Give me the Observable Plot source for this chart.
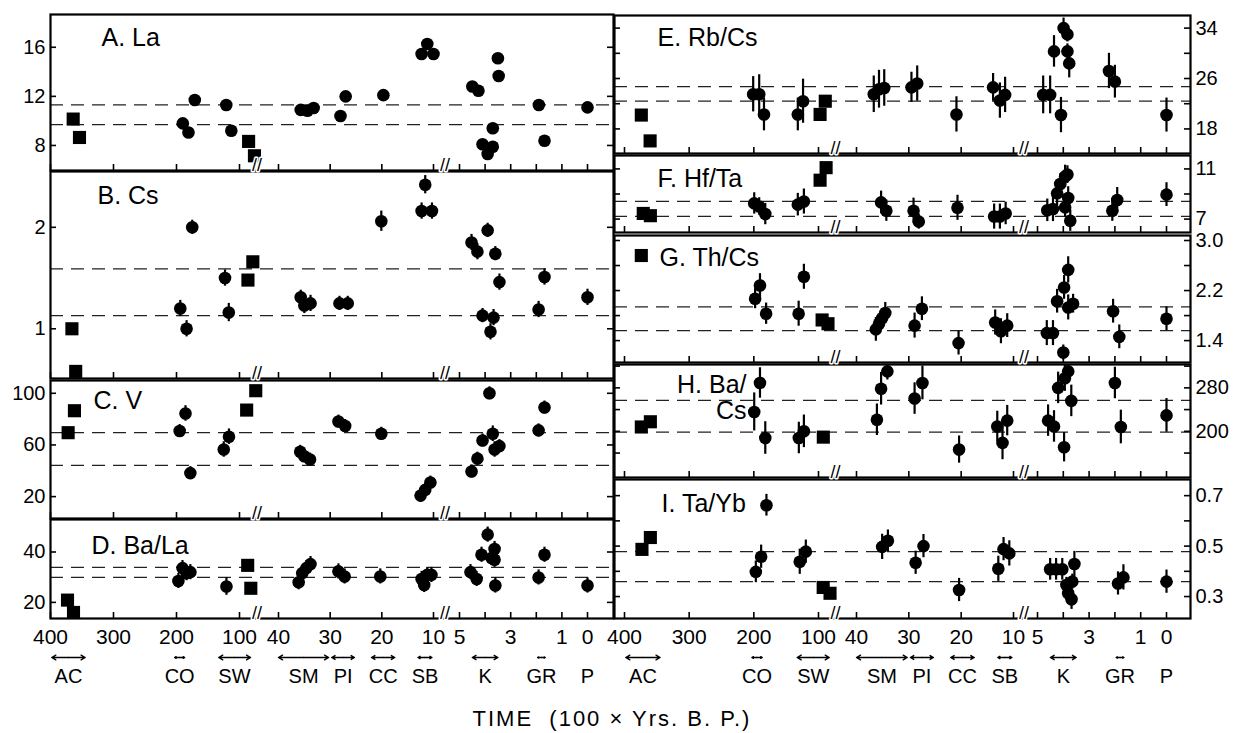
<!DOCTYPE html>
<html>
<head>
<meta charset="utf-8">
<script src="https://cdn.jsdelivr.net/npm/d3@7"></script>
<script src="https://cdn.jsdelivr.net/npm/@observablehq/plot@0.6"></script>
<style>
  body { margin: 0; background: #fff; }
  #chart { position: relative; width: 1238px; height: 733px; background: #fff; font-family: "Liberation Sans", Arial, sans-serif; overflow: hidden; }
  #chart svg { position: absolute; overflow: visible; }
  #xtitle { position: absolute; left: 0; width: 1224px; top: 706px; text-align: center; font-size: 22px; letter-spacing: 2px; color: #000; }
</style>
</head>
<body>
<div id="chart"><div id="xtitle">TIME&nbsp; (100 × Yrs. B. P.)</div></div>
<script>
// ---------- x axis (time, 100 x yrs B.P.) ----------
const xDomain = [400, 100, 40, 10, 5, 0];           // broken-axis segments
const xTicks = [400, 300, 200, 100, 40, 30, 20, 10, 5, 4, 3, 2, 1, 0];
const xLabels = [400, 300, 200, 100, 40, 30, 20, 10, 5, 3, 1, 0];
const xBreaks = [73, 7.8];

// ---------- site bars ----------
const siteNames = ["AC", "CO", "SW", "SM", "PI", "CC", "SB", "K", "GR", "P"];
const siteFrom  = [398, 203, 133, 40, 29.7, 22, 13, 4.5, 1.95, 0];
const siteTo    = [345, 187, 83, 30.3, 25.3, 17.5, 10.3, 3.5, 1.65, 0];

// ---------- data: [shape, time, value, error] (s = square, c = circle) ----------
const dataA = [["s",364,10.15],["s",354,8.65],["c",190,9.8],["c",181,9.06],["c",171,11.7],["c",121,11.3],["c",113,9.2],
  ["s",86,8.33],["s",77,7.16],["c",35.7,10.9],["c",34.4,10.83],["c",33.2,11.05],["c",28.0,10.4],["c",27.0,12.0],["c",19.7,12.1],
  ["c",12.3,15.45],["c",11.2,16.27],["c",10.0,15.45],["c",4.5,12.8],["c",4.26,12.46],["c",4.1,8.1],["c",3.9,7.3],["c",3.7,7.9],
  ["c",3.7,9.4],["c",3.5,15.1],["c",3.47,13.66],["c",1.9,11.3],["c",1.68,8.38],["c",0,11.1]];
const dashA = [11.3, 9.7];

const dataB = [["s",366,1.0,0],["s",360,0.58,0],["c",194,1.2,0.08],["c",184,1.0,0.08],["c",175,2.0,0.07],["c",123,1.5,0.08],["c",117,1.16,0.09],
  ["s",87,1.48,0],["s",79.5,1.66,0],["c",35.7,1.31,0.07],["c",35,1.23,0.08],["c",33.8,1.25,0.08],["c",28.2,1.25,0.07],["c",26.6,1.25,0.07],
  ["c",20.1,2.06,0.1],["c",11.6,2.42,0.09],["c",12.3,2.16,0.08],["c",10.3,2.16,0.08],["c",4.53,1.85,0.08],["c",4.3,1.76,0.08],["c",3.9,1.97,0.07],
  ["c",4.1,1.13,0.07],["c",3.67,1.11,0.08],["c",3.79,0.97,0.08],["c",3.6,1.74,0.07],["c",3.44,1.46,0.08],["c",1.91,1.19,0.08],["c",1.68,1.51,0.08],["c",0,1.31,0.08]];
const dashB = [1.59, 1.13];

const dataC = [["s",372,69.5,0],["s",362,86.5,0],["c",195,70.8,5],["c",185.7,84.4,6],["c",178,38.2,5],["c",125,56.5,6],["c",116.7,66.4,6],
  ["s",89,87,0],["s",75,102,0],["c",35.8,54.7,5],["c",35,51.3,5],["c",33.9,48.7,5],["c",28.4,78.1,5],["c",27.1,74.7,5],["c",20.1,68.7,5],
  ["c",12.5,20.8,5],["c",11.6,25.2,5],["c",10.6,30.9,5],["c",4.53,39.5,5],["c",4.3,49.4,5],["c",4.1,63.5,5],["c",3.83,100,5],["c",3.7,68.7,6],
  ["c",3.63,56.5,6],["c",3.44,59.1,5],["c",1.91,71.3,5],["c",1.68,89,5]];
const dashC = [69.5, 44.2];

const dataD = [["s",373,20.9,0],["s",363.5,16,0],["c",197,28.5,3],["c",190.5,33.6,3],["c",184,31.6,3],["c",178,32,3],["c",120.7,26.3,3.5],
  ["s",87.4,34.7,0],["s",82.6,25.6,0],["c",36.1,28,3],["c",35.4,31.6,3],["c",34.6,33.6,3],["c",33.8,35.2,3],["c",28.4,32.3,3],["c",27.2,30.3,3],
  ["c",20.3,30.3,3],["c",12.3,29.3,3],["c",11.8,26.9,3],["c",11.2,30.9,3],["c",10.4,30.9,3],["c",4.57,32,3],["c",4.33,29.3,3],["c",4.14,38.9,3],
  ["c",3.9,46.9,3],["c",3.75,37.6,3],["c",3.63,41.2,3],["c",3.63,36.9,3],["c",3.6,26.7,3],["c",1.91,29.9,3],["c",1.68,38.9,3],["c",0,26.7,3]];
const dashD = [33.9, 29.9];

const dataE = [["s",374,20.2,0],["s",360.4,16.1,0],["c",201,23.5,2.8],["c",191.7,23.5,3.1],["c",184.3,20.3,2.6],["c",132,20.3,2.6],["c",123.9,22.4,3.5],
  ["s",97.5,20.3,0],["s",89.3,22.4,0],["c",36.7,23.5,2.9],["c",35.7,24.3,3],["c",34.7,24.5,2.9],["c",29.5,24.6,2.4],["c",28.4,25.2,2.8],["c",20.9,20.3,2.8],
  ["c",13.9,24.6,2.2],["c",12.6,22.5,2.8],["c",11.6,23.4,2.8],["c",4.78,23.4,3],["c",4.51,23.4,3],["c",4.36,30.3,2.5],["c",4.09,20.2,2.8],["c",3.99,34,1.6],
  ["c",3.84,33,1.2],["c",3.84,30.3,1.2],["c",3.77,28.4,2.3],["c",2.23,27.2,2.8],["c",2.0,25.5,2.6],["c",0,20.2,2.7]];
const dashE = [24.7, 22.4];

const dataF = [["s",371,7.45,0],["s",360,7.27,0],["c",199.4,8.25,0.85],["c",191.7,8.0,0.7],["c",182.3,7.4,0.85],["c",132,8.15,0.9],["c",122.6,8.4,1.0],
  ["s",97.5,10.1,0],["s",88,11.1,0],["c",35.3,8.33,0.9],["c",34.3,7.67,0.85],["c",29.1,7.67,1.0],["c",28.1,6.8,0.6],["c",20.7,7.9,1.0],["c",13.7,7.2,1.0],
  ["c",12.6,7.2,1.0],["c",11.5,7.45,0.9],["c",4.62,7.7,0.9],["c",4.4,7.8,1.0],["c",4.24,9.05,1.0],["c",4.12,9.8,0.8],["c",3.93,10.4,0.9],["c",3.84,10.55,0.7],
  ["c",3.81,8.68,0.9],["c",3.93,7.93,0.8],["c",3.73,6.87,0.85],["c",2.1,7.67,0.85],["c",1.91,8.52,1.0],["c",0,8.95,0.95]];
const dashF = [8.41, 7.21];

const dataG = [["s",374,2.76,0],["c",198,2.07,0.16],["c",190.5,2.28,0.19],["c",181,1.83,0.17],["c",130.7,1.83,0.2],["c",122.6,2.42,0.2],
  ["s",94.3,1.73,0],["s",85,1.67,0],["c",36.3,1.58,0.19],["c",35.7,1.67,0.15],["c",35.1,1.76,0.15],["c",34.5,1.84,0.17],["c",28.9,1.64,0.2],["c",27.5,1.91,0.19],
  ["c",20.5,1.36,0.19],["c",13.5,1.69,0.2],["c",12.4,1.55,0.2],["c",11.2,1.64,0.19],["c",4.64,1.52,0.2],["c",4.4,1.52,0.2],["c",4.24,2.03,0.19],["c",3.97,2.25,0.19],
  ["c",3.81,2.53,0.21],["c",3.81,1.93,0.2],["c",3.62,1.99,0.15],["c",4.0,1.21,0.12],["c",2.07,1.87,0.19],["c",1.83,1.46,0.19],["c",0,1.75,0.19]];
const dashG = [1.94, 1.56];

const dataH = [["s",374,208,0],["s",360,217.6,0],["c",199.4,235.7,35],["c",190.5,289,28],["c",182.3,187.7,30],["c",130.4,187.7,29],["c",122.6,200,30],
  ["s",92.4,189.3,0],["c",36.1,221.3,29],["c",35.3,278.4,30],["c",34.1,310.4,16],["c",28.9,260.3,29],["c",27.4,289,31],["c",20.4,166.4,25],["c",13.1,209,28],
  ["c",12.1,178.7,31],["c",11.2,219.7,28],["c",4.59,219.7,29],["c",4.36,209,29],["c",4.2,280,29],["c",3.97,170.7,27],["c",3.94,297.6,24],["c",3.81,310.4,15],
  ["c",3.69,256,29],["c",2.0,289,29],["c",1.77,208,31],["c",0,229.3,31]];
const dashH = [257, 198.4];

const dataI = [["s",373,0.487,0],["s",360,0.534,0],["c",196.9,0.398,0.043],["c",188.7,0.458,0.046],["c",180.5,0.662,0.043],["c",129,0.438,0.05],["c",119.6,0.478,0.046],
  ["s",92.6,0.336,0],["s",81.8,0.313,0],["c",35.1,0.497,0.05],["c",34,0.521,0.043],["c",28.7,0.434,0.046],["c",27.2,0.5,0.046],["c",20.4,0.326,0.046],
  ["c",12.9,0.41,0.05],["c",11.9,0.488,0.046],["c",10.8,0.471,0.05],["c",4.51,0.408,0.043],["c",4.28,0.408,0.043],["c",4.04,0.408,0.043],["c",3.88,0.346,0.03],
  ["c",3.81,0.313,0.03],["c",3.68,0.289,0.04],["c",3.65,0.359,0.03],["c",3.57,0.429,0.05],["c",1.88,0.352,0.046],["c",1.67,0.376,0.05],["c",0,0.359,0.046]];
const dashI = [0.478, 0.359];

// ---------- layout ----------
const LEFT  = {left: 0,   width: 620, ml: 50, mr: 7,  range: [50, 239, 278, 433, 459, 587],      side: "left"};
const RIGHT = {left: 560, width: 678, ml: 54, mr: 48, range: [624, 818, 856, 1013, 1037, 1166],  side: "right"};

const f1 = d3.format(".1f");
const panels = [
  {col: LEFT, top: 14, bottom: 170, domain: [5.96, 18.67], rows: dataA, dash: dashA, yTicks: [8,12,16], yLabels: [8,12,16], fmt: d => d, title: ["A. La"], tdx: 51, tdy: [23]},
  {col: LEFT, top: 171, bottom: 378, domain: [0.51, 2.55], rows: dataB, dash: dashB, yTicks: [1,2], yLabels: [1,2], fmt: d => d, title: ["B. Cs"], tdx: 47, tdy: [24]},
  {col: LEFT, top: 380, bottom: 518, domain: [3.06, 109.9], rows: dataC, dash: dashC, yTicks: [20,60,100], yLabels: [20,60,100], fmt: d => d, title: ["C. V"], tdx: 43, tdy: [20]},
  {col: LEFT, top: 519, bottom: 618, domain: [13.6, 52.9], rows: dataD, dash: dashD, yTicks: [20,40], yLabels: [20,40], fmt: d => d, title: ["D. Ba/La"], tdx: 41, tdy: [26], xaxis: true},
  {col: RIGHT, top: 15, bottom: 153, domain: [14.1, 36], rows: dataE, dash: dashE, yTicks: [18,22,26,30,34], yLabels: [18,26,34], fmt: d => d, title: ["E. Rb/Cs"], tdx: 43, tdy: [22]},
  {col: RIGHT, top: 155, bottom: 232, domain: [5.93, 12.07], rows: dataF, dash: dashF, yTicks: [7,9,11], yLabels: [7,11], fmt: d => d, title: ["F. Hf/Ta"], tdx: 43, tdy: [23]},
  {col: RIGHT, top: 235, bottom: 362, domain: [1.05, 3.08], rows: dataG, dash: dashG, yTicks: [1.4,1.8,2.2,2.6,3.0], yLabels: [1.4,2.2,3.0], fmt: f1, title: ["G. Th/Cs"], tdx: 45, tdy: [22]},
  {col: RIGHT, top: 364, bottom: 477, domain: [115, 323], rows: dataH, dash: dashH, yTicks: [160,200,240,280,320], yLabels: [200,280], fmt: d => d, title: ["H. Ba/", "Cs"], tdx: 132, tdy: [20, 46], anchorEnd: true},
  {col: RIGHT, top: 479, bottom: 618, domain: [0.213, 0.764], rows: dataI, dash: dashI, yTicks: [0.3,0.4,0.5,0.6,0.7], yLabels: [0.3,0.5,0.7], fmt: f1, title: ["I. Ta/Yb"], tdx: 47, tdy: [24], xaxis: true}
];

const chart = document.getElementById("chart");
const STYLE = {background: "transparent", overflow: "visible", fontFamily: "'Liberation Sans', Arial, sans-serif", fontSize: "20px", color: "#000"};
const xScale = col => ({type: "linear", domain: xDomain, range: col.range.map(v => v - col.left), axis: null});

function buildPanel(p) {
  const col = p.col;
  const h = p.bottom - p.top;
  const fw = col.width - col.ml - col.mr;
  const mb = p.xaxis ? 40 : 0;
  const circ = p.rows.filter(r => r[0] === "c");
  const sq = p.rows.filter(r => r[0] === "s");
  const bars = circ.filter(r => r.length > 3 && r[3] > 0);
  const marks = [
    Plot.ruleY(p.dash, {y: d => d, stroke: "#222", strokeWidth: 1.3, strokeDasharray: "13,8"}),
    Plot.ruleX(bars, {x: r => r[1], y1: r => r[2] - r[3], y2: r => r[2] + r[3], stroke: "#000", strokeWidth: 2.2, clip: true}),
    Plot.dot(circ, {x: r => r[1], y: r => r[2], r: 6.3, fill: "#000", stroke: "none"}),
    Plot.dot(sq, {x: r => r[1], y: r => r[2], r: 7.4, symbol: "square", fill: "#000", stroke: "none"}),
    Plot.tickX(xTicks, {x: d => d, insetTop: h - 6, stroke: "#000", strokeWidth: 1.6}),
    Plot.tickY(p.yTicks, {y: d => d, insetRight: fw - 6, stroke: "#000", strokeWidth: 1.6}),
    Plot.tickY(p.yTicks, {y: d => d, insetLeft: fw - 6, stroke: "#000", strokeWidth: 1.6}),
    Plot.axisY({anchor: col.side, ticks: p.yLabels, tickSize: 0, tickPadding: 5, tickFormat: p.fmt, fontSize: 20}),
    Plot.frame({stroke: "#000", strokeWidth: 2.2}),
    Plot.text(xBreaks, {x: d => d, frameAnchor: "bottom", text: () => "//", fontSize: 18, fill: "#000", stroke: "#fff", strokeWidth: 3})
  ];
  p.title.forEach((t, i) => {
    marks.push(Plot.text([t], {text: d => d, frameAnchor: "top-left", dx: p.tdx, dy: p.tdy[i], textAnchor: p.anchorEnd ? "end" : "start", lineAnchor: "middle", fontSize: 25}));
  });
  if (p.xaxis) {
    marks.push(Plot.axisX({anchor: "bottom", ticks: xLabels, tickSize: 0, tickPadding: 11, tickFormat: d => String(d), fontSize: 21}));
  }
  const svg = Plot.plot({
    width: col.width, height: h + mb,
    marginLeft: col.ml, marginRight: col.mr, marginTop: 0, marginBottom: mb,
    x: xScale(col),
    y: {type: "linear", domain: p.domain, axis: null},
    style: STYLE,
    marks
  });
  svg.style.left = col.left + "px";
  svg.style.top = p.top + "px";
  chart.appendChild(svg);
}

function buildSites(col) {
  const sites = siteNames.map((n, i) => ({name: n, from: siteFrom[i], to: siteTo[i], mid: (siteFrom[i] + siteTo[i]) / 2}));
  const arrows = sites.filter(d => d.from !== d.to);
  const svg = Plot.plot({
    width: col.width, height: 40,
    marginLeft: col.ml, marginRight: col.mr, marginTop: 0, marginBottom: 0,
    x: xScale(col),
    y: {type: "linear", domain: [0, 1], axis: null},
    style: STYLE,
    marks: [
      Plot.arrow(arrows, {x1: "mid", x2: "from", y1: () => 0.7, y2: () => 0.7, headLength: 5, strokeWidth: 1.4, stroke: "#000"}),
      Plot.arrow(arrows, {x1: "mid", x2: "to", y1: () => 0.7, y2: () => 0.7, headLength: 5, strokeWidth: 1.4, stroke: "#000"}),
      Plot.text(sites, {x: "mid", y: () => 0.22, text: "name", fontSize: 20, fill: "#000"})
    ]
  });
  svg.style.left = col.left + "px";
  svg.style.top = "645px";
  chart.appendChild(svg);
}

// draw lower panels first so that each panel's break marks sit on top of the next panel's frame
panels.slice().reverse().forEach(buildPanel);
buildSites(LEFT);
buildSites(RIGHT);
</script>
</body>
</html>
